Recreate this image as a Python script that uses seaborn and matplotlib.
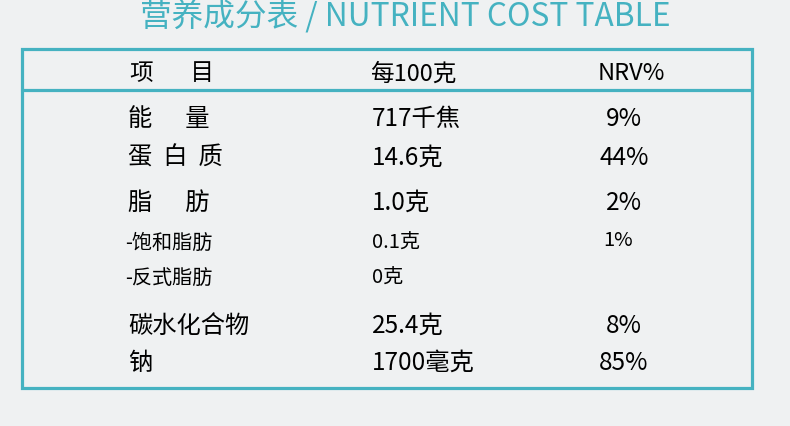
import matplotlib
matplotlib.use("Agg")
import matplotlib.pyplot as plt
import seaborn as sns

# table content
title = "营养成分表 / NUTRIENT COST TABLE"
headers = ["项       目", "每100克", "NRV%"]
items = ["能      量", "蛋  白  质", "脂      肪", "-饱和脂肪", "-反式脂肪", "碳水化合物", "钠"]
amounts = ["717千焦", "14.6克", "1.0克", "0.1克", "0克", "25.4克", "1700毫克"]
nrv = ["9%", "44%", "2%", "1%", "", "8%", "85%"]
is_sub = [False, False, False, True, True, False, False]

sns.set_theme(style="white")
plt.rcParams['font.family'] = ['Noto Sans CJK SC', 'DejaVu Sans']

teal = "#45b2c1"
bg = "#eff1f2"

fig = plt.figure(figsize=(7.9, 4.26), dpi=100)
fig.patch.set_facecolor(bg)
ax = fig.add_axes([0, 0, 1, 1])
ax.set_xlim(0, 790)
ax.set_ylim(426, 0)
ax.axis("off")
ax.set_facecolor(bg)

# title
ax.text(405, 17, title, color=teal, fontsize=22.8, fontweight="light",
        ha="center", va="center")

# box + header divider
ax.add_patch(plt.Rectangle((22, 49), 730, 339, fill=False, edgecolor=teal, lw=2.3))
ax.plot([22, 752], [90, 90], color=teal, lw=2.3)

col_x = [128, 370, 624]
ax.text(col_x[0] + 2, 74, headers[0], fontsize=17, ha="left", va="center", color="black")
ax.text(col_x[1], 74, headers[1], fontsize=17, ha="left", va="center", color="black")
ax.text(598, 74, headers[2], fontsize=17, ha="left", va="center", color="black")

row_y = [119, 158, 203, 243, 278, 326, 363]
for y, it, am, nv, sub in zip(row_y, items, amounts, nrv, is_sub):
    fs = 14.5 if sub else 17.5
    ax.text(col_x[0] - (3 if sub else 0), y, it, fontsize=fs,
            ha="left", va="center", color="black")
    ax.text(col_x[1] + 2, y, am, fontsize=fs,
            ha="left", va="center", color="black")
    ax.text(col_x[2] - (6 if sub else 0), y - (3 if sub else 0), nv, fontsize=fs,
            ha="center", va="center", color="black")

fig.savefig("out.png", dpi=100, facecolor=bg)
